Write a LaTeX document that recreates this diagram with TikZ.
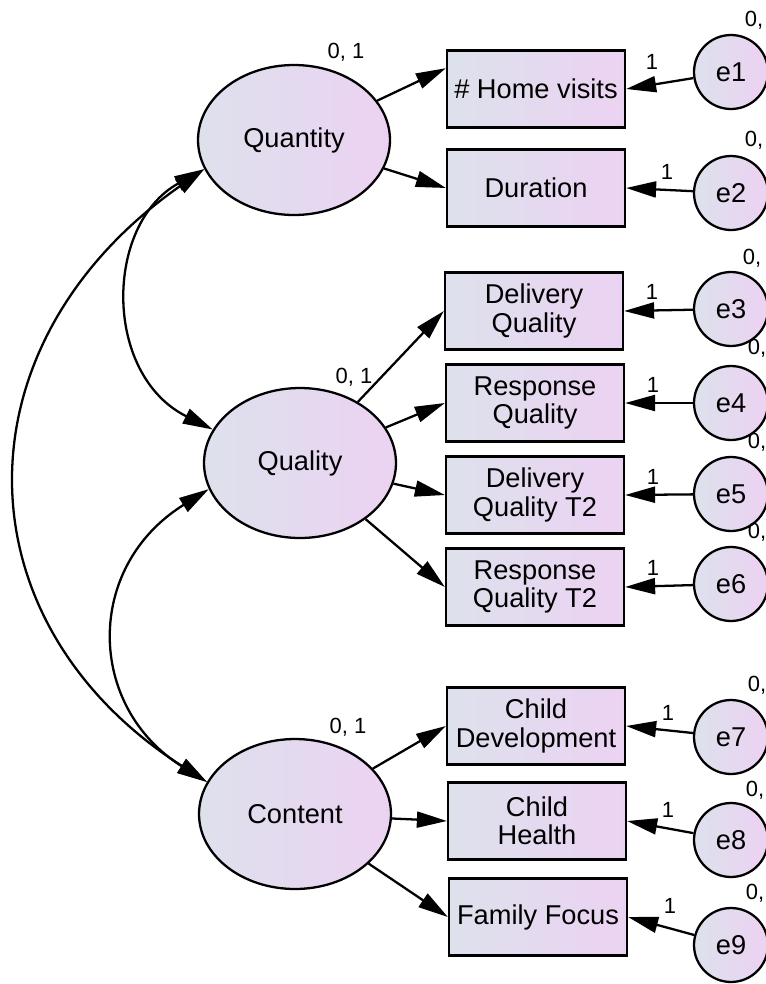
\documentclass[tikz,border=0pt]{standalone}
\usepackage{fontspec}
\setmainfont{Liberation Sans}
\usetikzlibrary{shapes.geometric,arrows.meta}
\definecolor{fondg}{RGB}{221,225,236}
\definecolor{fondd}{RGB}{236,210,242}
\tikzset{
  latente/.style={ellipse,draw,left color=fondg,right color=fondd,minimum width=3.84cm,minimum height=3cm,inner sep=0pt,font=\fontsize{15.5}{16}\selectfont},
  mesure/.style={rectangle,draw,left color=fondg,right color=fondd,minimum width=3.56cm,minimum height=1.54cm,inner sep=0pt,align=center,font=\fontsize{15.5}{16}\selectfont},
  erreur/.style={circle,draw,left color=fondg,right color=fondd,minimum size=1.48cm,inner sep=0pt,font=\fontsize{15.5}{16}\selectfont},
  petit/.style={inner sep=0pt,font=\fontsize{12.5}{13}\selectfont}
}

\begin{document}
\begin{tikzpicture}[x=0.02cm,y=-0.02cm,line width=1.3pt,>={Triangle[length=6mm,width=3.2mm]}]
        \useasboundingbox (0,0) rectangle (766,984);
        % Variables latentes
        \node[latente] (quant) at (294,140) {Quantity};
        \node[latente] (qual) at (300,463) {Quality};
        \node[latente] (cont) at (295,814) {Content};
        \node[petit] (vquant) at (346,52) {0, 1};
        \node[petit] (vqual) at (354,377) {0, 1};
        \node[petit] (vcont) at (348,727) {0, 1};
        % Indicateurs
        \node[mesure] (hv) at (536,89) {\# Home visits};
        \node[mesure] (dur) at (536,188) {Duration};
        \node[mesure] (dq) at (534,311) {Delivery\\Quality};
        \node[mesure] (rq) at (535,403) {Response\\Quality};
        \node[mesure] (dqt) at (535,495) {Delivery\\Quality T2};
        \node[mesure] (rqt) at (535,587) {Response\\Quality T2};
        \node[mesure] (cd) at (536,726) {Child\\Development};
        \node[mesure] (ch) at (537,821) {Child\\Health};
        \node[mesure] (ff) at (538,917) {Family Focus};
        % Erreurs
        \node[erreur] (e1) at (731,72) {e1};
        \node[erreur] (e2) at (731,193) {e2};
        \node[erreur] (e3) at (731,309) {e3};
        \node[erreur] (e4) at (731,403) {e4};
        \node[erreur] (e5) at (731,494) {e5};
        \node[erreur] (e6) at (731,584) {e6};
        \node[erreur] (e7) at (731,737) {e7};
        \node[erreur] (e8) at (731,840) {e8};
        \node[erreur] (e9) at (731,945) {e9};
        \node[petit] (v1) at (754,20) {0,};
        \node[petit] (v2) at (754,140) {0,};
        \node[petit] (v3) at (752,258) {0,};
        \node[petit] (v4) at (757,348) {0,};
        \node[petit] (v5) at (757,442) {0,};
        \node[petit] (v6) at (757,532) {0,};
        \node[petit] (v7) at (757,685) {0,};
        \node[petit] (v8) at (755,790) {0,};
        \node[petit] (v9) at (755,893) {0,};
        % Saturations
        \draw[->] (quant) -- (hv.167);
        \draw[->] (quant) -- (dur.west);
        \draw[->] (qual) -- (dq.west);
        \draw[->] (qual) -- (rq.west);
        \draw[->] (qual) -- (dqt.west);
        \draw[->] (qual) -- (rqt.west);
        \draw[->] (cont) -- (cd.west);
        \draw[->] (cont) -- (ch.west);
        \draw[->] (cont) -- (ff.west);
        % Erreurs vers indicateurs
        \draw[->] (e1) -- (hv.east);
        \draw[->] (e2) -- (dur.east);
        \draw[->] (e3) -- (dq.east);
        \draw[->] (e4) -- (rq.east);
        \draw[->] (e5) -- (dqt.east);
        \draw[->] (e6) -- (rqt.east);
        \draw[->] (e7) -- (cd.east);
        \draw[->] (e8) -- (ch.east);
        \draw[->] (e9) -- (ff.east);
        \node[petit] (p1) at (652,62) {1};
        \node[petit] (p2) at (667,172) {1};
        \node[petit] (p3) at (652,292) {1};
        \node[petit] (p4) at (653,385) {1};
        \node[petit] (p5) at (653,477) {1};
        \node[petit] (p6) at (653,568) {1};
        \node[petit] (p7) at (668,713) {1};
        \node[petit] (p8) at (668,810) {1};
        \node[petit] (p9) at (670,906) {1};
        % Covariances
        \draw[<->] (quant.198) .. controls +(-100,55) and +(-110,-55) .. (qual.159);
        \draw[<->] (qual.196) .. controls +(-125,78) and +(-120,-75) .. (cont.160);
        \draw[<->] (quant.198) .. controls +(-250,175) and +(-250,-160) .. (cont.160);
    \end{tikzpicture}
\end{document}
